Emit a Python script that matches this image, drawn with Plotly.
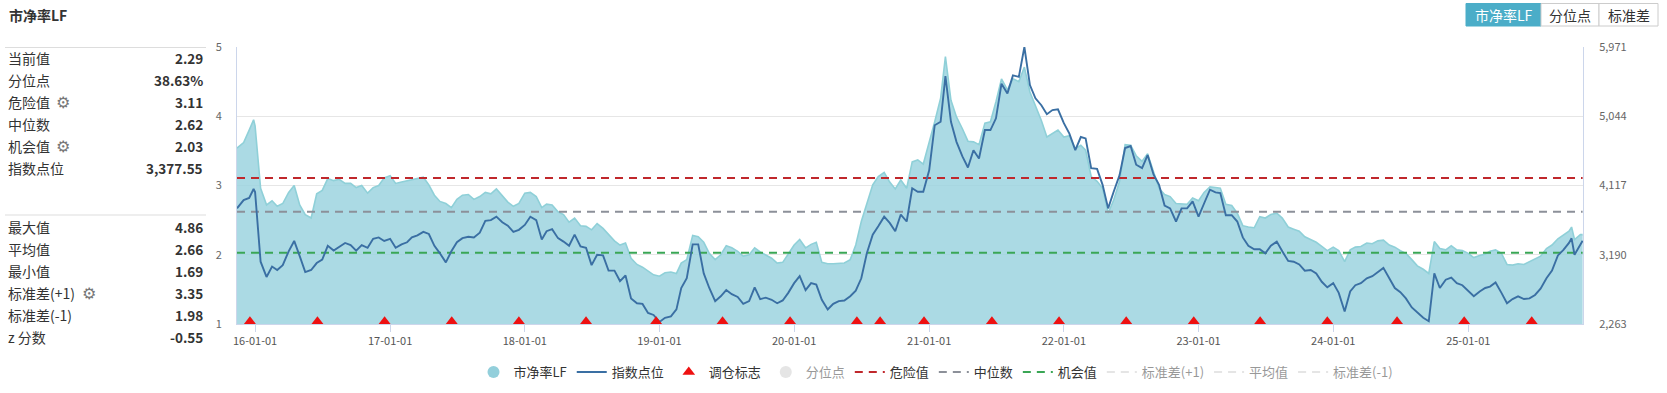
import plotly.graph_objects as go

# ---------------- data ----------------
dates = [
    "2015-11-13", "2015-12-01", "2015-12-16", "2015-12-28",
    "2016-01-01", "2016-01-16", "2016-02-01", "2016-02-16", "2016-03-01", "2016-03-16",
    "2016-04-01", "2016-04-16", "2016-05-01", "2016-05-16", "2016-06-01", "2016-06-16",
    "2016-07-01", "2016-07-16", "2016-08-01", "2016-08-16", "2016-09-01", "2016-09-16",
    "2016-10-01", "2016-10-16", "2016-11-01", "2016-11-16", "2016-12-01", "2016-12-16",
    "2017-01-01", "2017-01-16", "2017-02-01", "2017-02-16", "2017-03-01", "2017-03-16",
    "2017-04-01", "2017-04-16", "2017-05-01", "2017-05-16", "2017-06-01", "2017-06-16",
    "2017-07-01", "2017-07-16", "2017-08-01", "2017-08-16", "2017-09-01", "2017-09-16",
    "2017-10-01", "2017-10-16", "2017-11-01", "2017-11-16", "2017-12-01", "2017-12-16",
    "2018-01-01", "2018-01-16", "2018-02-01", "2018-02-16", "2018-03-01", "2018-03-16",
    "2018-04-01", "2018-04-16", "2018-05-01", "2018-05-16", "2018-06-01", "2018-06-16",
    "2018-07-01", "2018-07-16", "2018-08-01", "2018-08-16", "2018-09-01", "2018-09-16",
    "2018-10-01", "2018-10-16", "2018-11-01", "2018-11-16", "2018-12-01", "2018-12-16",
    "2019-01-01", "2019-01-16", "2019-02-01", "2019-02-16", "2019-03-01", "2019-03-16",
    "2019-04-01", "2019-04-16", "2019-05-01", "2019-05-16", "2019-06-01", "2019-06-16",
    "2019-07-01", "2019-07-16", "2019-08-01", "2019-08-16", "2019-09-01", "2019-09-16",
    "2019-10-01", "2019-10-16", "2019-11-01", "2019-11-16", "2019-12-01", "2019-12-16",
    "2020-01-01", "2020-01-16", "2020-02-01", "2020-02-16", "2020-03-01", "2020-03-16",
    "2020-04-01", "2020-04-16", "2020-05-01", "2020-05-16", "2020-06-01", "2020-06-16",
    "2020-07-01", "2020-07-16", "2020-08-01", "2020-08-16", "2020-09-01", "2020-09-16",
    "2020-10-01", "2020-10-16", "2020-11-01", "2020-11-16", "2020-12-01", "2020-12-16",
    "2021-01-01", "2021-01-16", "2021-02-01", "2021-02-14", "2021-03-01", "2021-03-16",
    "2021-04-01", "2021-04-16", "2021-05-01", "2021-05-16", "2021-06-01", "2021-06-16",
    "2021-07-01", "2021-07-16", "2021-08-01", "2021-08-16", "2021-09-01", "2021-09-16",
    "2021-10-01", "2021-10-16", "2021-11-01", "2021-11-16", "2021-12-01", "2021-12-16",
    "2022-01-01", "2022-01-16", "2022-02-01", "2022-02-16", "2022-03-01", "2022-03-16",
    "2022-04-01", "2022-04-16", "2022-05-01", "2022-05-16", "2022-06-01", "2022-06-16",
    "2022-07-01", "2022-07-16", "2022-08-01", "2022-08-16", "2022-09-01", "2022-09-16",
    "2022-10-01", "2022-10-16", "2022-11-01", "2022-11-16", "2022-12-01", "2022-12-16",
    "2023-01-01", "2023-01-16", "2023-02-01", "2023-02-16", "2023-03-01", "2023-03-16",
    "2023-04-01", "2023-04-16", "2023-05-01", "2023-05-16", "2023-06-01", "2023-06-16",
    "2023-07-01", "2023-07-16", "2023-08-01", "2023-08-16", "2023-09-01", "2023-09-16",
    "2023-10-01", "2023-10-16", "2023-11-01", "2023-11-16", "2023-12-01", "2023-12-16",
    "2024-01-01", "2024-01-16", "2024-02-01", "2024-02-16", "2024-03-01", "2024-03-16",
    "2024-04-01", "2024-04-16", "2024-05-01", "2024-05-16", "2024-06-01", "2024-06-16",
    "2024-07-01", "2024-07-16", "2024-08-01", "2024-08-16", "2024-09-01", "2024-09-16",
    "2024-10-01", "2024-10-16", "2024-11-01", "2024-11-16", "2024-12-01", "2024-12-16",
    "2025-01-01", "2025-01-16", "2025-02-01", "2025-02-16", "2025-03-01", "2025-03-16",
    "2025-04-01", "2025-04-16", "2025-05-01", "2025-05-16", "2025-06-01", "2025-06-16",
    "2025-07-01", "2025-07-16", "2025-08-01", "2025-08-16", "2025-09-01", "2025-09-16",
    "2025-10-01", "2025-10-08", "2025-10-16", "2025-11-01", "2025-11-07",
]

pb_lf = [
    3.54, 3.62, 3.80, 3.95,
    3.86, 2.96, 2.72, 2.78, 2.70, 2.74, 2.90, 3.00, 2.72, 2.58, 2.53, 2.88,
    2.93, 3.10, 3.07, 3.09, 3.03, 3.03, 2.97, 3.00, 2.89, 2.97, 3.00, 3.11,
    3.14, 3.03, 3.05, 3.07, 3.08, 3.10, 3.12, 3.01, 2.86, 2.77, 2.74, 2.68,
    2.80, 2.86, 2.87, 2.80, 2.84, 2.90, 2.88, 2.95, 2.85, 2.76, 2.70, 2.74,
    2.89, 2.90, 2.84, 2.68, 2.73, 2.72, 2.62, 2.58, 2.47, 2.53, 2.42, 2.41,
    2.36, 2.45, 2.38, 2.30, 2.20, 2.14, 2.17, 1.95, 1.86, 1.82, 1.76, 1.71,
    1.69, 1.74, 1.75, 1.73, 1.88, 1.93, 2.28, 2.26, 2.18, 2.02, 1.93, 2.00,
    2.13, 2.10, 2.05, 1.98, 2.00, 2.10, 2.04, 2.00, 1.95, 1.88, 1.89, 2.01,
    2.14, 2.22, 2.10, 2.15, 2.18, 1.89, 1.87, 1.87, 1.87, 1.88, 1.93, 2.14,
    2.48, 2.74, 3.01, 3.13, 3.19, 3.05, 2.95, 3.08, 2.96, 3.34, 3.37, 3.31,
    3.61, 3.92, 4.26, 4.86, 4.23, 3.99, 3.82, 3.64, 3.63, 3.59, 3.90, 3.92,
    4.21, 4.54, 4.38, 4.54, 4.50, 4.71, 4.35, 4.15, 3.94, 3.70, 3.75, 3.80,
    3.70, 3.72, 3.53, 3.58, 3.51, 3.13, 3.06, 2.96, 2.60, 2.79, 3.06, 3.59,
    3.58, 3.43, 3.35, 3.46, 3.20, 2.96, 2.87, 2.84, 2.74, 2.74, 2.73, 2.82,
    2.78, 2.90, 2.98, 2.97, 2.96, 2.73, 2.71, 2.60, 2.42, 2.40, 2.39, 2.55,
    2.53, 2.58, 2.60, 2.53, 2.40, 2.37, 2.34, 2.26, 2.22, 2.18, 2.12, 2.06,
    2.11, 2.06, 1.90, 2.07, 2.11, 2.12, 2.17, 2.16, 2.20, 2.21, 2.14, 2.11,
    2.06, 2.02, 1.93, 1.84, 1.79, 1.73, 2.19, 2.09, 2.07, 2.13, 2.07, 2.06,
    2.02, 1.96, 1.99, 2.01, 2.05, 2.07, 2.02, 1.86, 1.85, 1.87, 1.86, 1.90,
    1.93, 1.98, 2.09, 2.14, 2.23, 2.29, 2.34, 2.40, 2.22, 2.29, 2.29,
]

index_points = [
    3811, 3922, 3950, 4070,
    4030, 3097, 2893, 3032, 2986, 3051, 3236, 3375, 3171, 2958, 2986, 3079,
    3125, 3310, 3246, 3301, 3348, 3320, 3246, 3320, 3283, 3403, 3422, 3375,
    3403, 3283, 3329, 3357, 3422, 3450, 3496, 3468, 3310, 3209, 3088, 3236,
    3357, 3412, 3431, 3422, 3486, 3644, 3654, 3700, 3626, 3579, 3496, 3524,
    3589, 3700, 3654, 3394, 3505, 3533, 3412, 3366, 3310, 3459, 3301, 3283,
    3051, 3190, 3181, 2977, 2977, 2838, 2912, 2606, 2541, 2532, 2411, 2384,
    2291, 2346, 2365, 2458, 2745, 2875, 3329, 3329, 2940, 2745, 2569, 2634,
    2717, 2662, 2625, 2532, 2569, 2754, 2597, 2615, 2587, 2541, 2578, 2680,
    2810, 2903, 2717, 2810, 2791, 2587, 2458, 2532, 2569, 2578, 2634, 2708,
    2875, 3209, 3459, 3570, 3700, 3616, 3505, 3728, 3635, 4080, 4034, 4034,
    4321, 4924, 4970, 5582, 4970, 4701, 4506, 4358, 4590, 4479, 4859, 4859,
    5016, 5480, 5350, 5591, 5572, 5971, 5461, 5285, 5192, 5072, 5127, 5137,
    4951, 4812, 4590, 4766, 4747, 4349, 4340, 4126, 3811, 4034, 4256, 4618,
    4645, 4395, 4349, 4525, 4265, 4126, 3848, 3811, 3635, 3811, 3811, 3904,
    3700, 3876, 4061, 4024, 4015, 3719, 3719, 3635, 3422, 3310, 3264, 3264,
    3209, 3310, 3366, 3236, 3107, 3097, 3060, 2977, 2986, 2940, 2828, 2754,
    2810, 2680, 2430, 2699, 2782, 2810, 2875, 2903, 2958, 3014, 2875, 2745,
    2689, 2606, 2485, 2411, 2346, 2300, 2940, 2745, 2856, 2884, 2810, 2782,
    2699, 2634, 2699, 2745, 2764, 2819, 2680, 2541, 2597, 2634, 2597, 2606,
    2652, 2736, 2875, 2977, 3181, 3255, 3348, 3410, 3190, 3329, 3377.55,
]

rebalance_dates = [
    "2015-12-18", "2016-06-18", "2016-12-17", "2017-06-17", "2017-12-16",
    "2018-06-16", "2018-12-23", "2019-06-21", "2019-12-21", "2020-06-19",
    "2020-08-21", "2020-12-18", "2021-06-20", "2021-12-19", "2022-06-19",
    "2022-12-19", "2023-06-17", "2023-12-16", "2024-06-22", "2024-12-21",
    "2025-06-22",
]

danger_value = 3.11
median_value = 2.62
chance_value = 2.03
std_plus1 = 3.35
mean_value = 2.66
std_minus1 = 1.98

left_ticks = [1, 2, 3, 4, 5]
right_ticks = [2263, 3190, 4117, 5044, 5971]

stats_top = [
    ("当前值", "2.29", False), ("分位点", "38.63%", False), ("危险值", "3.11", True),
    ("中位数", "2.62", False), ("机会值", "2.03", True), ("指数点位", "3,377.55", False),
]
stats_bottom = [
    ("最大值", "4.86", False), ("平均值", "2.66", False), ("最小值", "1.69", False),
    ("标准差(+1)", "3.35", True), ("标准差(-1)", "1.98", False), ("z 分数", "-0.55", False),
]
buttons = ["市净率LF", "分位点", "标准差"]

# ---------------- layout helpers (pixel -> paper) ----------------
W, H = 1667, 393
PL, PR, PT, PBt = 237, 1583, 47, 324


def fx(px):
    return (px - PL) / (PR - PL)


def fy(py):
    return (PBt - py) / (PBt - PT)


FONT = "Noto Sans CJK SC, Microsoft YaHei, sans-serif"
C_AREA = "rgba(152,210,222,0.82)"
C_AREA_LINE = "#8fd0d8"
C_INDEX = "#3a6fa3"
C_RED = "#c0282c"
C_GRAY = "#8c9099"
C_GREEN = "#3aa655"

fig = go.Figure()

x_span = [dates[0], dates[-1]]

fig.add_trace(go.Scatter(
    x=dates, y=pb_lf, name="市净率LF", mode="lines", fill="tozeroy",
    line=dict(color=C_AREA_LINE, width=1.6), fillcolor=C_AREA,
    showlegend=False, legendgroup="pb", hoverinfo="skip"))
fig.add_trace(go.Scatter(
    x=[None], y=[None], name="市净率LF", mode="markers", legendgroup="pb",
    marker=dict(symbol="circle", size=12, color="#93cfdb")))
fig.add_trace(go.Scatter(
    x=dates, y=index_points, name="指数点位", mode="lines", yaxis="y2",
    line=dict(color=C_INDEX, width=1.9), hoverinfo="skip"))

for name, val, col in [
    ("危险值", danger_value, C_RED),
    ("中位数", median_value, C_GRAY),
    ("机会值", chance_value, C_GREEN),
]:
    fig.add_trace(go.Scatter(
        x=x_span, y=[val, val], name=name, mode="lines",
        line=dict(color=col, width=2, dash="8px,6px"), hoverinfo="skip"))

fig.add_trace(go.Scatter(
    x=rebalance_dates, y=[0] * len(rebalance_dates), name="调仓标志", mode="markers",
    yaxis="y3", cliponaxis=False,
    marker=dict(symbol="triangle-up", size=11, color="#ee1111"), hoverinfo="skip"))

fig.add_trace(go.Scatter(
    x=[None], y=[None], name="分位点", mode="markers", visible="legendonly",
    marker=dict(symbol="circle", size=12, color="#cccccc")))
for name, val in [("标准差(+1)", std_plus1), ("平均值", mean_value), ("标准差(-1)", std_minus1)]:
    fig.add_trace(go.Scatter(
        x=x_span, y=[val, val], name=name, mode="lines", visible="legendonly",
        line=dict(color="#cccccc", width=2, dash="8px,6px")))

ranks = {"市净率LF": 1, "指数点位": 2, "调仓标志": 3, "分位点": 4, "危险值": 5,
         "中位数": 6, "机会值": 7, "标准差(+1)": 8, "平均值": 9, "标准差(-1)": 10}
for tr in fig.data:
    tr.legendrank = ranks.get(tr.name, 100)

annotations = []
shapes = []

# left statistics panel
annotations.append(dict(text="<b>市净率LF</b>", x=fx(7), y=fy(15), xref="paper", yref="paper",
                        xanchor="left", yanchor="middle", showarrow=False,
                        font=dict(size=14, color="#333", family=FONT)))
for sep_y in (47.5, 215):
    shapes.append(dict(type="line", xref="paper", yref="paper", x0=fx(5), x1=fx(206),
                       y0=fy(sep_y), y1=fy(sep_y), line=dict(color="#dddddd", width=1)))


def add_rows(rows, y0):
    for i, (lab, val, gear) in enumerate(rows):
        yy = y0 + 22 * i
        annotations.append(dict(text=lab, x=fx(6), y=fy(yy), xref="paper", yref="paper",
                                xanchor="left", yanchor="middle", showarrow=False,
                                font=dict(size=14, color="#333", family=FONT)))
        annotations.append(dict(text="<b>" + val + "</b>", x=fx(205), y=fy(yy), xref="paper",
                                yref="paper", xanchor="right", yanchor="middle", showarrow=False,
                                font=dict(size=13.5, color="#333", family=FONT)))
        if gear:
            gx = 63 if len(lab) <= 3 else 89
            annotations.append(dict(text="⚙", x=fx(gx), y=fy(yy), xref="paper", yref="paper",
                                    xanchor="center", yanchor="middle", showarrow=False,
                                    font=dict(size=16, color="#777", family="DejaVu Sans")))


add_rows(stats_top, 58)
add_rows(stats_bottom, 227)

# top-right toggle buttons
btn_edges = [1466, 1541, 1599, 1658]
for i, lab in enumerate(buttons):
    sel = i == 0
    shapes.append(dict(type="rect", xref="paper", yref="paper",
                       x0=fx(btn_edges[i]), x1=fx(btn_edges[i + 1]), y0=fy(26), y1=fy(3.5),
                       fillcolor="#4badc8" if sel else "white",
                       line=dict(color="#4badc8" if sel else "#cccccc", width=1)))
    annotations.append(dict(text=lab, x=fx((btn_edges[i] + btn_edges[i + 1]) / 2), y=fy(15),
                            xref="paper", yref="paper", xanchor="center", yanchor="middle",
                            showarrow=False,
                            font=dict(size=14, color="white" if sel else "#333", family=FONT)))

fig.update_layout(
    width=W, height=H,
    margin=dict(l=PL, r=W - PR, t=PT, b=H - PBt, pad=0),
    paper_bgcolor="white", plot_bgcolor="white",
    font=dict(family=FONT, size=12, color="#333"),
    showlegend=True,
    legend=dict(orientation="h", x=fx(936), xanchor="center",
                yref="container", y=1 - 357 / H, yanchor="top",
                font=dict(size=13, color="#333", family=FONT), itemwidth=30,
                bgcolor="rgba(0,0,0,0)", tracegroupgap=0),
    xaxis=dict(type="date", range=["2015-11-13", "2025-11-08"], tickformat="%y-%m-%d",
               dtick="M12", tick0="2016-01-01", ticks="outside", ticklen=7,
               tickcolor="#ccd6eb", showline=True, linecolor="#ccd6eb", showgrid=False,
               zeroline=False, automargin=False, tickfont=dict(size=11, color="#555")),
    yaxis=dict(range=[1, 5], tickvals=left_ticks, showgrid=True, gridcolor="#e6e6e6",
               zeroline=False, showline=True, linecolor="#ccd6eb", ticks="", automargin=False,
               ticklabelstandoff=12, tickfont=dict(size=11, color="#666")),
    yaxis2=dict(range=[right_ticks[0], right_ticks[-1]], tickvals=right_ticks,
                tickformat=",", overlaying="y", side="right", showgrid=False,
                zeroline=False, showline=True, linecolor="#ccd6eb", ticks="", automargin=False,
                ticklabelstandoff=13, tickfont=dict(size=11, color="#666")),
    yaxis3=dict(range=[-1, 120], overlaying="y", visible=False, fixedrange=True),
    annotations=annotations, shapes=shapes,
    hovermode=False,
)

fig.write_html("out.html", config={"displayModeBar": False},
               post_script="document.body.style.margin='0';")
